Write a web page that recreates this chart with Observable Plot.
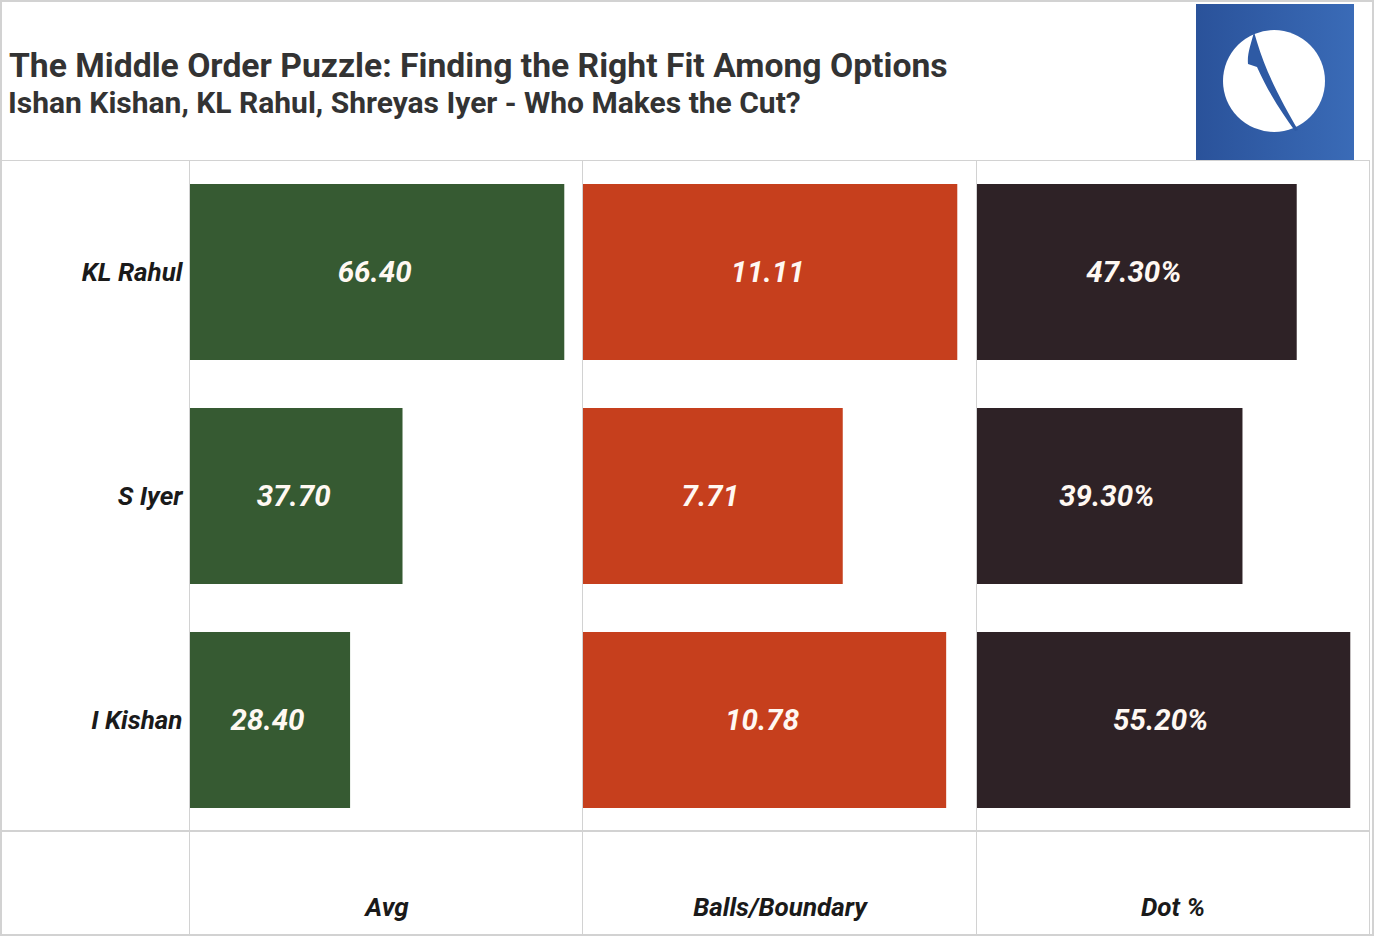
<!DOCTYPE html>
<html>
<head>
<meta charset="utf-8">
<script src="https://cdn.jsdelivr.net/npm/d3@7"></script>
<script src="https://cdn.jsdelivr.net/npm/@observablehq/plot@0.6"></script>
<style>
  html, body { margin: 0; padding: 0; background: #fff; }
  #page { position: relative; width: 1374px; height: 936px; overflow: hidden; font-family: Roboto, "Noto Sans", sans-serif; }
  #title { position: absolute; left: 9px; top: 48.5px; font-size: 33.7px; line-height: 1; font-weight: 700; color: #333; white-space: nowrap; }
  #subtitle { position: absolute; left: 8px; top: 88px; font-size: 30px; line-height: 1; font-weight: 700; color: #333; white-space: nowrap; }
  #logo { position: absolute; left: 1196px; top: 4px; }
  #chart { position: absolute; left: 0; top: 160px; }
  .ln { position: absolute; background: #d2d2d2; }
</style>
</head>
<body>
<div id="page">
  <div id="title">The Middle Order Puzzle: Finding the Right Fit Among Options</div>
  <div id="subtitle">Ishan Kishan, KL Rahul, Shreyas Iyer - Who Makes the Cut?</div>
  <svg id="logo" width="158" height="157" viewBox="0 0 158 157">
    <defs>
      <linearGradient id="lg" x1="0" x2="1" y1="0" y2="0">
        <stop offset="0" stop-color="#2a529a"/>
        <stop offset="1" stop-color="#3a6bb7"/>
      </linearGradient>
    </defs>
    <rect width="158" height="157" fill="url(#lg)"/>
    <circle cx="78" cy="77" r="51" fill="#fff"/>
    <path d="M58,28 C55,40 51,50 52,60 L61,63 C73,90 87,110 99,127 L102,126 C89,103 71,72 61,38 Z" fill="#2e5aa4"/>
  </svg>
  <div id="chart"></div>
  <!-- frame lines -->
  <div class="ln" style="left:0;top:0;width:1374px;height:2px"></div>
  <div class="ln" style="left:0;top:934px;width:1374px;height:2px"></div>
  <div class="ln" style="left:0;top:0;width:2px;height:936px"></div>
  <div class="ln" style="left:1372px;top:0;width:2px;height:936px"></div>
  <div class="ln" style="left:0;top:160px;width:1370px;height:1px"></div>
  <div class="ln" style="left:0;top:830px;width:1370px;height:2px"></div>
  <div class="ln" style="left:189px;top:160px;width:1px;height:776px"></div>
  <div class="ln" style="left:582px;top:160px;width:1px;height:776px"></div>
  <div class="ln" style="left:976px;top:160px;width:1px;height:776px"></div>
  <div class="ln" style="left:1369px;top:160px;width:1px;height:776px"></div>
</div>
<script>
const players = ["KL Rahul", "S Iyer", "I Kishan"];
const metrics = ["Avg", "Balls/Boundary", "Dot %"];
const avg = [66.40, 37.70, 28.40];
const ballsPerBoundary = [11.11, 7.71, 10.78];
const dotPct = [47.30, 39.30, 55.20];
const suffixes = ["", "", "%"];
const metricColors = ["#365a32", "#c63f1d", "#2e2226"];

const series = [avg, ballsPerBoundary, dotPct];
const rows = [];
metrics.forEach((m, j) => {
  const vals = series[j];
  const mx = d3.max(vals);
  players.forEach((p, i) => {
    rows.push({
      metric: m,
      player: p,
      value: vals[i],
      share: vals[i] / mx,
      label: vals[i].toFixed(2) + suffixes[j]
    });
  });
});

const chart = Plot.plot({
  width: 1374,
  height: 776,
  marginTop: 0,
  marginBottom: 104,
  marginLeft: 189,
  marginRight: 5,
  style: { fontFamily: "Roboto, sans-serif", background: "transparent" },
  fx: { domain: metrics, padding: 0, label: null },
  x: { domain: [0, 1.05], axis: null },
  y: { domain: players, paddingInner: 0.2143, paddingOuter: 0.1071, label: null },
  color: { domain: metrics, range: metricColors },
  marks: [
    Plot.barX(rows, { fx: "metric", y: "player", x: "share", fill: "metric" }),
    Plot.text(rows, {
      fx: "metric", y: "player", x: d => d.share / 2, text: "label", dx: -3,
      fill: "#fff8f2", fontSize: 29.5, fontWeight: "bold", fontStyle: "italic"
    }),
    Plot.axisY({ tickSize: 0, tickPadding: 8, fontSize: 26, fontWeight: "bold", fontStyle: "italic", color: "#1a1a1a", label: null }),
    Plot.axisFx({ anchor: "bottom", tickSize: 0, tickPadding: 65, fontSize: 26, fontWeight: "bold", fontStyle: "italic", color: "#1a1a1a", label: null })
  ]
});
document.getElementById("chart").appendChild(chart);
</script>
</body>
</html>
